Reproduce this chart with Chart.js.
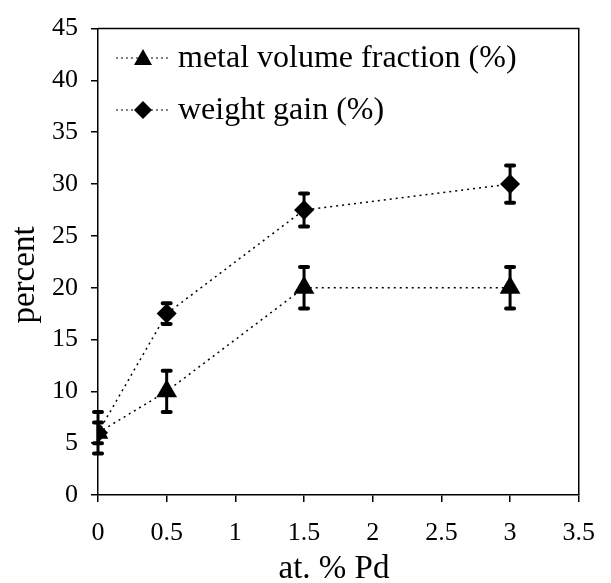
<!DOCTYPE html>
<html>
<head>
<meta charset="utf-8">
<script src="https://cdn.jsdelivr.net/npm/chart.js@4/dist/chart.umd.min.js"></script>
<style>
html,body{margin:0;padding:0;background:#fff;}
#wrap{width:611px;height:583px;}
</style>
</head>
<body>
<div id="wrap"><canvas id="c" width="611" height="583"></canvas></div>
<script>
const xValues = [0, 0.5, 1.5, 3];
const metalVolume = [6, 10, 20, 20];
const metalErr = [2, 2, 2, 2];
const weightGain = [6, 17.5, 27.5, 30];
const weightErr = [1, 1, 1.6, 1.8];
const seriesLabels = ['metal volume fraction (%)', 'weight gain (%)'];
const xTitle = 'at. % Pd';
const yTitle = 'percent';

const FONT = '"Liberation Serif", "Times New Roman", serif';

function pts(ys){ return xValues.map((x,i)=>({x:x,y:ys[i]})); }

const errorBars = {
  id:'errorBars',
  afterDatasetsDraw(chart){
    const ctx = chart.ctx;
    const xs = chart.scales.x, ys = chart.scales.y;
    chart.data.datasets.forEach((ds)=>{
      const errs = ds.errs;
      ds.data.forEach((p,i)=>{
        const px = xs.getPixelForValue(p.x);
        const top = ys.getPixelForValue(p.y + errs[i]);
        const bot = ys.getPixelForValue(p.y - errs[i]);
        ctx.save();
        ctx.strokeStyle = '#000';
        ctx.lineWidth = 3;
        ctx.lineCap = 'butt';
        ctx.beginPath(); ctx.moveTo(px, top); ctx.lineTo(px, bot); ctx.stroke();
        ctx.lineWidth = 4;
        ctx.lineCap = 'round';
        ctx.beginPath();
        ctx.moveTo(px-4, top); ctx.lineTo(px+4, top);
        ctx.moveTo(px-4, bot); ctx.lineTo(px+4, bot);
        ctx.stroke();
        ctx.restore();
      });
    });
  }
};

const frameAndLegend = {
  id:'frameAndLegend',
  afterDraw(chart){
    const ctx = chart.ctx;
    const a = chart.chartArea;
    ctx.save();
    ctx.strokeStyle = '#000';
    ctx.lineWidth = 1.5;
    ctx.beginPath();
    ctx.moveTo(a.left, a.top); ctx.lineTo(a.right, a.top); ctx.lineTo(a.right, a.bottom);
    ctx.stroke();
    // legend
    const rows = [58, 110];
    chart.data.datasets.forEach((ds, i)=>{
      const y = rows[i];
      ctx.strokeStyle = '#000';
      ctx.lineWidth = 1.2;
      ctx.setLineDash([2,3]);
      ctx.beginPath(); ctx.moveTo(116, y); ctx.lineTo(168, y); ctx.stroke();
      ctx.setLineDash([]);
      ctx.fillStyle = '#000';
      ctx.beginPath();
      if (ds.pointStyle === 'triangle') {
        ctx.moveTo(143, y-9); ctx.lineTo(152, y+7); ctx.lineTo(134, y+7); ctx.closePath();
      } else {
        ctx.moveTo(143, y-9); ctx.lineTo(152, y); ctx.lineTo(143, y+9); ctx.lineTo(134, y); ctx.closePath();
      }
      ctx.fill();
      ctx.font = '32px ' + FONT;
      ctx.textBaseline = 'alphabetic';
      ctx.textAlign = 'left';
      ctx.fillText(ds.label, 178, y + 9);
    });
    // axis titles
    ctx.font = '33px ' + FONT;
    ctx.textAlign = 'center';
    ctx.textBaseline = 'alphabetic';
    ctx.fillText(xTitle, 334, 578);
    ctx.translate(34, 275);
    ctx.rotate(-Math.PI/2);
    ctx.fillText(yTitle, 0, 0);
    ctx.restore();
  }
};

new Chart(document.getElementById('c'), {
  type:'scatter',
  data:{
    datasets:[
      {label:seriesLabels[0], data:pts(metalVolume), errs:metalErr, showLine:true,
       borderColor:'#000', borderWidth:1.5, borderDash:[2,4], pointStyle:'triangle',
       pointRadius:12, pointBackgroundColor:'#000', pointBorderColor:'#000', pointBorderWidth:0},
      {label:seriesLabels[1], data:pts(weightGain), errs:weightErr, showLine:true,
       borderColor:'#000', borderWidth:1.5, borderDash:[2,4], pointStyle:'rectRot',
       pointRadius:10, pointBackgroundColor:'#000', pointBorderColor:'#000', pointBorderWidth:0}
    ]
  },
  options:{
    responsive:false,
    animation:false,
    layout:{padding:{top:22,right:18,left:0,bottom:0}},
    plugins:{legend:{display:false}, tooltip:{enabled:false}},
    scales:{
      x:{
        type:'linear', min:0, max:3.5,
        afterFit(s){ s.height = 88; },
        ticks:{stepSize:0.5, color:'#000', font:{family:FONT, size:26}, padding:16, maxRotation:0,
               callback:(v)=>String(v)},
        grid:{drawOnChartArea:false, drawTicks:true, tickLength:7, color:'#000', lineWidth:1.5},
        border:{color:'#000', width:1.5},
        title:{display:false}
      },
      y:{
        type:'linear', min:0, max:45,
        afterFit(s){ s.width = 98; },
        ticks:{stepSize:5, color:'#000', font:{family:FONT, size:26}, padding:13,
               callback:(v)=>String(v)},
        grid:{drawOnChartArea:false, drawTicks:true, tickLength:7, color:'#000', lineWidth:1.5},
        border:{color:'#000', width:1.5},
        title:{display:false}
      }
    }
  },
  plugins:[errorBars, frameAndLegend]
});
</script>
</body>
</html>
